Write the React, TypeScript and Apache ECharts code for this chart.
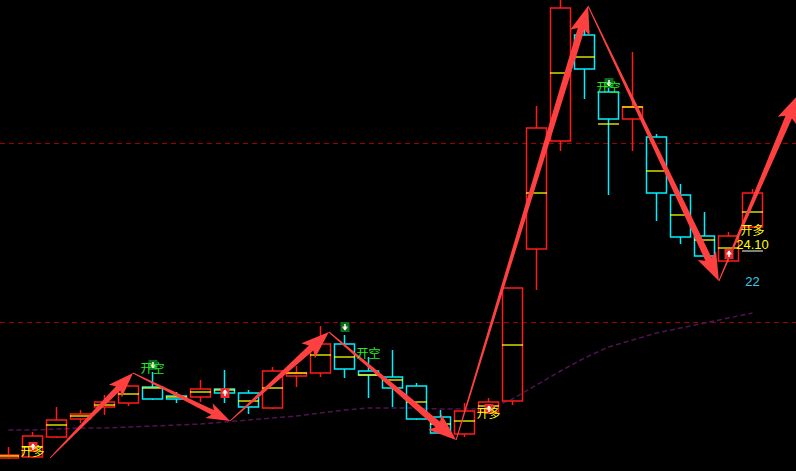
import React, { useEffect, useRef } from 'react';
import * as echarts from 'echarts';

// ---- data ----
const categories = [
  'D01', 'D02', 'D03', 'D04', 'D05', 'D06', 'D07', 'D08', 'D09', 'D10',
  'D11', 'D12', 'D13', 'D14', 'D15', 'D16', 'D17', 'D18', 'D19', 'D20',
  'D21', 'D22', 'D23', 'D24', 'D25', 'D26', 'D27', 'D28', 'D29', 'D30',
  'D31', 'D32', 'D33',
];

// [open, close, low, high]
const candles = [
  [15.65, 15.8, 15.6, 16.2],
  [15.7, 16.75, 15.65, 16.95],
  [16.7, 17.55, 16.65, 18.2],
  [17.6, 17.85, 17.4, 18.05],
  [18.2, 18.45, 17.8, 18.8],
  [18.4, 19.25, 18.25, 19.3],
  [19.2, 18.6, 18.55, 19.95],
  [18.75, 18.6, 18.4, 18.95],
  [18.7, 19.1, 18.45, 19.55],
  [19.1, 18.9, 18.4, 20.05],
  [18.9, 18.2, 17.85, 19.05],
  [18.15, 20.0, 18.1, 20.2],
  [19.75, 19.9, 19.2, 20.25],
  [19.9, 21.35, 19.7, 22.25],
  [21.35, 20.1, 19.65, 21.8],
  [20.0, 19.8, 18.65, 20.7],
  [19.7, 19.15, 18.2, 21.05],
  [19.25, 17.6, 17.55, 19.4],
  [17.7, 16.9, 16.85, 18.05],
  [16.85, 18.0, 16.7, 18.4],
  [17.95, 18.45, 17.9, 18.65],
  [18.5, 24.15, 18.3, 24.15],
  [26.1, 32.15, 24.05, 33.25],
  [31.5, 38.15, 31.0, 38.55],
  [36.8, 35.1, 33.6, 37.2],
  [33.95, 32.6, 28.8, 34.3],
  [32.6, 33.2, 31.0, 35.95],
  [31.7, 28.9, 27.5, 31.85],
  [28.8, 26.7, 26.35, 29.35],
  [26.75, 25.75, 25.75, 27.95],
  [25.5, 26.75, 25.45, 26.95],
  [27.2, 28.9, 27.15, 29.1],
];

// yellow tick inside each candle
const avgTicks = [
  15.75, 16.2, 17.3, 17.75, 18.3, 18.85, 19.15, 18.7, 18.95, 19.05,
  18.5, 19.15, 19.9, 20.8, 20.7, 19.8, 19.55, 18.45, 17.35, 17.5,
  18.25, 21.3, 28.9, 34.9, 35.7, 32.35, 33.2, 30.0, 27.8, 26.55,
  26.15, 27.95,
];

// dashed purple moving average
const maLine = [
  17.05, 17.05, 17.1, 17.15, 17.15, 17.2, 17.25, 17.3, 17.35, 17.45,
  17.55, 17.65, 17.75, 17.9, 18.05, 18.15, 18.15, 18.15, 18.1, 18.1,
  18.1, 18.6, 19.3, 20.0, 20.65, 21.2, 21.55, 21.9, 22.15, 22.4,
  22.65, 22.9,
];

const levelLines = [31.4, 22.45];

// zig-zag arrow path (x in bar index, y in price)
const zigzagX = [1.73, 5.19, 9.23, 13.35, 18.65, 24.15, 29.6, 32.9];
const zigzagY = [15.65, 19.9, 17.5, 21.95, 16.55, 38.25, 24.5, 33.8];

const buyMarkX = [1, 9, 20, 30];
const buyMarkY = [16.2, 18.9, 18.1, 25.85];
const sellMarkX = [6, 14, 25];
const sellMarkY = [20.3, 22.2, 34.4];

const signalTexts = ['开多', '开空', '开空', '开多', '开空', '开多'];
const signalX = [1, 6, 15, 20, 25, 31];
const signalY = [16.05, 20.2, 20.95, 17.95, 34.25, 27.1];

const priceTag = '24.10';
const priceTagX = 31;
const priceTagY = 26.35;
const levelTag = '22';
const levelTagX = 31;
const levelTagY = 24.5;

export default function App() {
  const ref = useRef<HTMLDivElement>(null);

  useEffect(() => {
    if (!ref.current) return;
    const chart = echarts.init(ref.current, undefined, { renderer: 'svg' });

    const segments = [] as number[][];
    for (let k = 0; k < zigzagX.length - 1; k++) {
      segments.push([zigzagX[k], zigzagY[k], zigzagX[k + 1], zigzagY[k + 1]]);
    }
    const buyData = buyMarkX.map((x, i) => [x, buyMarkY[i], 1]);
    const sellData = sellMarkX.map((x, i) => [x, sellMarkY[i], 0]);
    const signalData = signalX.map((x, i) => [x, signalY[i], i]);
    const levelData = levelLines.map((v) => [0, v]);

    const cjk = '"Noto Sans CJK SC", "Noto Sans", sans-serif';
    const nCat = categories.length;

    const option: any = {
      animation: false,
      backgroundColor: '#000000',
      grid: {
        left: -3.5,
        top: 0,
        width: 24 * nCat,
        height: 471,
        show: false,
        containLabel: false,
        outerBoundsMode: 'none',
      },
      xAxis: [
        { type: 'category', data: categories, show: false, boundaryGap: true },
        { type: 'value', min: -0.5, max: nCat - 0.5, show: false, splitLine: { show: false } },
      ],
      yAxis: { type: 'value', min: 15, max: 38.55, show: false, splitLine: { show: false } },
      series: [
        {
          type: 'custom',
          xAxisIndex: 1,
          data: levelData,
          encode: { x: 0, y: 1 },
          silent: true,
          clip: false,
          z: 0,
          renderItem: (params: any, api: any) => {
            const p = api.coord([api.value(0), api.value(1)]);
            const y = Math.round(p[1]) + 0.5;
            return {
              type: 'line',
              shape: { x1: 0, y1: y, x2: api.getWidth(), y2: y },
              style: { stroke: '#a00000', lineWidth: 1, lineDash: [5, 4] },
            };
          },
        },
        {
          type: 'line',
          xAxisIndex: 0,
          data: maLine,
          symbol: 'none',
          silent: true,
          z: 1,
          lineStyle: { color: '#4e1450', width: 1.5, type: [5, 3] },
        },
        {
          type: 'candlestick',
          xAxisIndex: 0,
          data: candles,
          barWidth: 20,
          silent: true,
          z: 2,
          itemStyle: {
            color: 'rgba(0,0,0,0)',
            color0: 'rgba(0,0,0,0)',
            borderColor: '#ff1a1a',
            borderColor0: '#00f0ff',
            borderWidth: 1.5,
          },
        },
        {
          type: 'scatter',
          xAxisIndex: 0,
          data: avgTicks,
          symbol: 'rect',
          symbolSize: [21, 1.6],
          silent: true,
          z: 3,
          itemStyle: { color: '#ffff00' },
        },
        {
          type: 'custom',
          xAxisIndex: 1,
          data: segments,
          encode: { x: [0, 2], y: [1, 3] },
          silent: true,
          clip: false,
          z: 5,
          renderItem: (params: any, api: any) => {
            const a = api.coord([api.value(0), api.value(1)]);
            const b = api.coord([api.value(2), api.value(3)]);
            const dx = b[0] - a[0];
            const dy = b[1] - a[1];
            const len = Math.hypot(dx, dy);
            const ux = dx / len;
            const uy = dy / len;
            const nx = -uy;
            const ny = ux;
            const hl = Math.min(24, len * 0.18);
            const hw = hl * 0.85;
            const w0 = 1;
            const w1 = Math.min(7, len * 0.05);
            const nk = [b[0] - ux * hl, b[1] - uy * hl];
            const wg = [b[0] - ux * (hl + 4), b[1] - uy * (hl + 4)];
            const points = [
              [a[0] + (nx * w0) / 2, a[1] + (ny * w0) / 2],
              [nk[0] + (nx * w1) / 2, nk[1] + (ny * w1) / 2],
              [wg[0] + (nx * hw) / 2, wg[1] + (ny * hw) / 2],
              [b[0], b[1]],
              [wg[0] - (nx * hw) / 2, wg[1] - (ny * hw) / 2],
              [nk[0] - (nx * w1) / 2, nk[1] - (ny * w1) / 2],
              [a[0] - (nx * w0) / 2, a[1] - (ny * w0) / 2],
            ];
            return {
              type: 'polygon',
              shape: { points },
              style: { fill: '#ff4040' },
            };
          },
        },
        {
          type: 'custom',
          xAxisIndex: 1,
          data: [...buyData, ...sellData],
          encode: { x: 0, y: 1 },
          silent: true,
          z: 6,
          renderItem: (params: any, api: any) => {
            const p = api.coord([api.value(0), api.value(1)]);
            const up = api.value(2) === 1;
            const cx = Math.round(p[0]);
            const cy = Math.round(p[1]);
            const arrow = up
              ? [[cx - 2.5, cy - 0.5], [cx + 2.5, cy - 0.5], [cx, cy - 3.5]]
              : [[cx - 2.5, cy + 0.5], [cx + 2.5, cy + 0.5], [cx, cy + 3.5]];
            return {
              type: 'group',
              children: [
                {
                  type: 'rect',
                  shape: { x: cx - 4.5, y: cy - 5, width: 9, height: 10 },
                  style: { fill: up ? '#e82a2a' : '#0e6a1c' },
                },
                {
                  type: 'line',
                  shape: { x1: cx, y1: cy - 3, x2: cx, y2: cy + 3 },
                  style: { stroke: '#ffffff', lineWidth: 1.5 },
                },
                {
                  type: 'line',
                  shape: { x1: cx - 2.5, y1: cy, x2: cx + 2.5, y2: cy },
                  style: { stroke: '#ffffff', lineWidth: 1 },
                },
                { type: 'polygon', shape: { points: arrow }, style: { fill: '#ffffff' } },
              ],
            };
          },
        },
        {
          type: 'custom',
          xAxisIndex: 1,
          data: signalData,
          encode: { x: 0, y: 1 },
          silent: true,
          z: 7,
          renderItem: (params: any, api: any) => {
            const p = api.coord([api.value(0), api.value(1)]);
            const txt = signalTexts[api.value(2)];
            const isLong = txt === '开多';
            return {
              type: 'text',
              x: p[0],
              y: p[1],
              style: {
                text: txt,
                fill: isLong ? '#ffff00' : '#22ee22',
                fontSize: 12,
                fontFamily: cjk,
                align: 'center',
                verticalAlign: 'middle',
              },
            };
          },
        },
        {
          type: 'custom',
          xAxisIndex: 1,
          data: [[priceTagX, priceTagY, 0], [levelTagX, levelTagY, 1]],
          encode: { x: 0, y: 1 },
          silent: true,
          z: 7,
          renderItem: (params: any, api: any) => {
            const p = api.coord([api.value(0), api.value(1)]);
            const isPrice = api.value(2) === 0;
            const children: any[] = [
              {
                type: 'text',
                x: p[0],
                y: p[1],
                style: {
                  text: isPrice ? priceTag : levelTag,
                  fill: isPrice ? '#ffff00' : '#33ccee',
                  fontSize: 13,
                  fontFamily: '"Liberation Sans", Arial, sans-serif',
                  align: 'center',
                  verticalAlign: 'middle',
                },
              },
            ];
            if (isPrice) {
              children.push({
                type: 'line',
                shape: { x1: p[0] - 10.5, y1: p[1] + 7, x2: p[0] + 10.5, y2: p[1] + 7 },
                style: { stroke: '#ffffff', lineWidth: 1 },
              });
            }
            return { type: 'group', children };
          },
        },
      ],
    };

    chart.setOption(option);
    return () => {
      chart.dispose();
    };
  }, []);

  return (
    <div
      ref={ref}
      style={{
        position: 'fixed',
        left: 0,
        top: 0,
        width: 796,
        height: 471,
        background: '#000000',
      }}
    />
  );
}
